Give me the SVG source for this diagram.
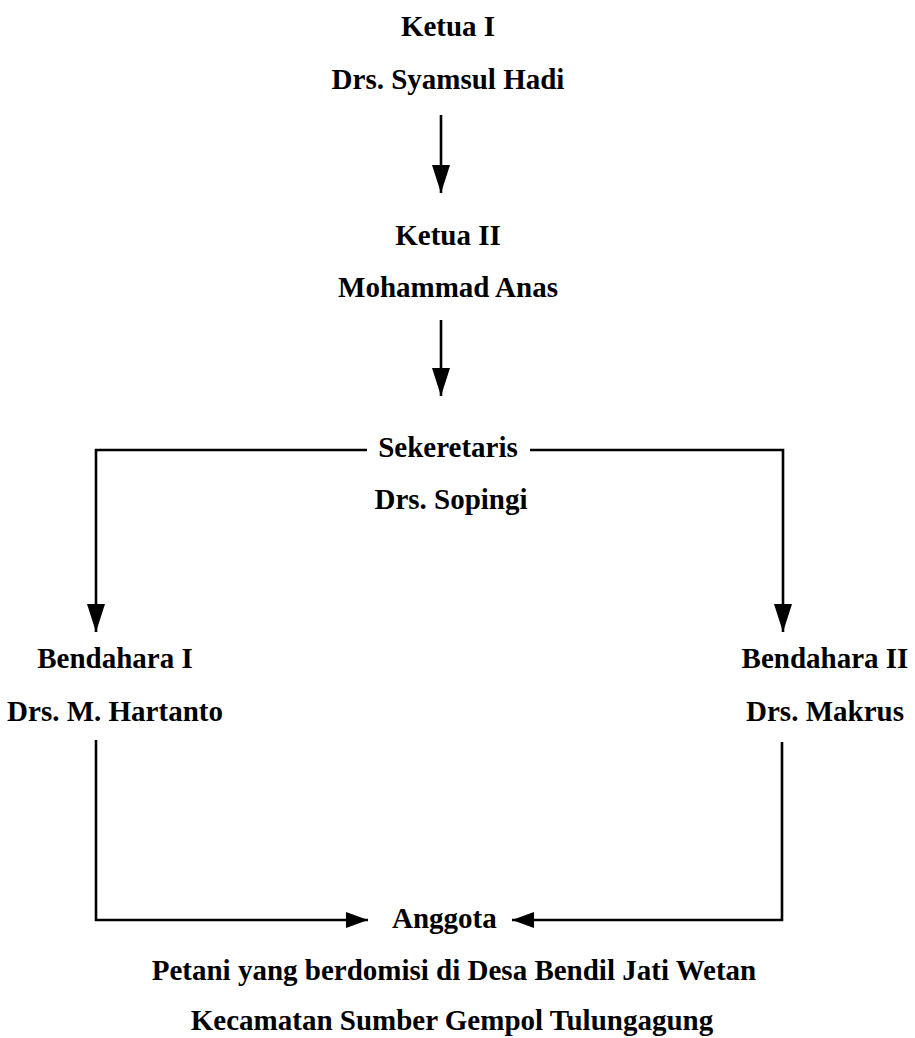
<svg xmlns="http://www.w3.org/2000/svg" width="915" height="1038" viewBox="0 0 915 1038">
<style>
text{font-family:"Liberation Serif","Times New Roman",serif;font-weight:bold;font-size:29px;fill:#000}
.c{text-anchor:middle}
.ln{fill:none;stroke:#000;stroke-width:2.6}
</style>
<defs>
<marker id="av" viewBox="0 0 28 18" refX="28" refY="9" markerWidth="28" markerHeight="18" markerUnits="userSpaceOnUse" orient="auto"><path d="M0,0 L28,9 L0,18 z" fill="#000"/></marker>
<marker id="ah" viewBox="0 0 22 16" refX="22" refY="8" markerWidth="22" markerHeight="16" markerUnits="userSpaceOnUse" orient="auto"><path d="M0,0 L22,8 L0,16 z" fill="#000"/></marker>
</defs>
<rect width="915" height="1038" fill="#fff"/>
<g id="connectors">
<path class="ln" d="M441,115 V193" marker-end="url(#av)"/>
<path class="ln" d="M441,320 V396" marker-end="url(#av)"/>
<path class="ln" d="M367,450 H96 V632" marker-end="url(#av)"/>
<path class="ln" d="M530,450 H783 V632" marker-end="url(#av)"/>
<path class="ln" d="M96,740 V920 H368" marker-end="url(#ah)"/>
<path class="ln" d="M782,742 V920 H512" marker-end="url(#ah)"/>
</g>
<g id="ketua1"><text class="c" x="448" y="36">Ketua I</text><text class="c" x="448" y="89">Drs. Syamsul Hadi</text></g>
<g id="ketua2"><text class="c" x="448" y="245">Ketua II</text><text class="c" x="448" y="297">Mohammad Anas</text></g>
<g id="sekretaris"><text class="c" x="448" y="457">Sekeretaris</text><text class="c" x="451" y="509">Drs. Sopingi</text></g>
<g id="bendahara1"><text class="c" x="115" y="668">Bendahara I</text><text class="c" x="115" y="721">Drs. M. Hartanto</text></g>
<g id="bendahara2"><text class="c" x="825" y="668">Bendahara II</text><text class="c" x="825" y="721">Drs. Makrus</text></g>
<g id="anggota"><text x="392" y="928">Anggota</text><text class="c" x="454" y="980">Petani yang berdomisi di Desa Bendil Jati Wetan</text><text class="c" x="452" y="1030">Kecamatan Sumber Gempol Tulungagung</text></g>
</svg>
